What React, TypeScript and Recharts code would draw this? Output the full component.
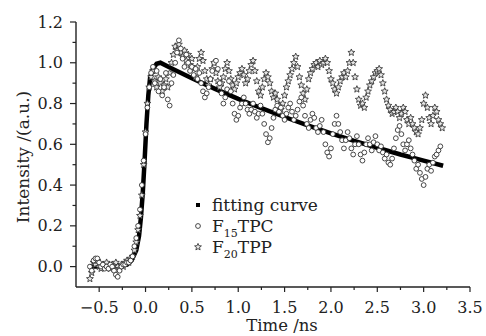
import React from 'react';
import { ComposedChart, Scatter, Line, XAxis, YAxis, Legend } from 'recharts';

const FONT = '"DejaVu Serif", serif';
const INK = '#222';

const xMajorTicks = [-0.5, 0, 0.5, 1, 1.5, 2, 2.5, 3, 3.5];
const xMinorTicks = [-0.25, 0.25, 0.75, 1.25, 1.75, 2.25, 2.75, 3.25];
const yMajorTicks = [0, 0.2, 0.4, 0.6, 0.8, 1.0, 1.2];
const yMinorTicks = [0.1, 0.3, 0.5, 0.7, 0.9, 1.1];

const legendNames = ['fitting curve', 'F15TPC', 'F20TPP'];
const xTitle = 'Time /ns';
const yTitle = 'Intensity /(a.u.)';

// fitting curve (time, intensity)
const fitPoints: [number, number][] = [
  [-0.6, 0.0], [-0.4, 0.0], [-0.3, 0.0], [-0.2, 0.01], [-0.15, 0.03], [-0.1, 0.08], [-0.07, 0.15],
  [-0.05, 0.24], [-0.03, 0.36], [-0.01, 0.52], [0.01, 0.7], [0.03, 0.84], [0.05, 0.93], [0.08, 0.97],
  [0.12, 0.995], [0.16, 1.0], [0.3, 0.968], [0.5, 0.924], [0.75, 0.872], [1.0, 0.823], [1.25, 0.777],
  [1.5, 0.734], [1.75, 0.693], [2.0, 0.654], [2.25, 0.617], [2.5, 0.583], [2.75, 0.55], [3.0, 0.52], [3.21, 0.495],
];

// F15TPC (time, intensity)
const tpcPoints: [number, number][] = [
  [-0.6, 0.0], [-0.58, -0.02], [-0.56, 0.03], [-0.54, 0.04], [-0.52, 0.04], [-0.5, 0.02], [-0.48, 0.0],
  [-0.46, 0.01], [-0.44, -0.01], [-0.42, 0.0], [-0.4, -0.01], [-0.38, 0.01], [-0.36, 0.0], [-0.34, -0.02],
  [-0.32, -0.04], [-0.3, -0.05], [-0.28, -0.02], [-0.26, 0.0], [-0.24, 0.01], [-0.22, 0.01], [-0.2, 0.02],
  [-0.18, 0.02], [-0.16, 0.03], [-0.14, 0.05], [-0.12, 0.1], [-0.1, 0.14], [-0.08, 0.2], [-0.06, 0.28],
  [-0.04, 0.4], [-0.02, 0.52], [0.0, 0.65], [0.02, 0.78], [0.04, 0.88], [0.06, 0.95], [0.08, 0.98],
  [0.1, 0.9], [0.12, 0.96], [0.14, 0.86], [0.16, 0.92], [0.18, 0.84], [0.2, 0.88], [0.22, 0.95],
  [0.24, 0.82], [0.26, 0.79], [0.28, 0.9], [0.3, 0.94], [0.32, 1.0], [0.34, 1.05], [0.36, 1.11],
  [0.38, 1.07], [0.4, 1.02], [0.42, 0.98], [0.44, 1.04], [0.46, 1.0], [0.48, 0.96], [0.5, 0.98],
  [0.52, 0.94], [0.54, 0.97], [0.56, 0.92], [0.58, 0.95], [0.6, 0.9], [0.62, 0.86], [0.64, 0.83],
  [0.66, 0.85], [0.68, 0.88], [0.7, 0.92], [0.72, 0.96], [0.74, 1.0], [0.76, 1.01], [0.78, 0.97],
  [0.8, 0.9], [0.82, 0.85], [0.84, 0.8], [0.86, 0.83], [0.88, 0.87], [0.9, 0.91], [0.92, 0.86],
  [0.94, 0.8], [0.96, 0.75], [0.98, 0.72], [1.0, 0.74], [1.02, 0.78], [1.04, 0.8], [1.06, 0.83],
  [1.08, 0.8], [1.1, 0.77], [1.12, 0.75], [1.14, 0.77], [1.16, 0.8], [1.18, 0.76], [1.2, 0.73],
  [1.22, 0.75], [1.24, 0.79], [1.26, 0.75], [1.28, 0.7], [1.3, 0.65], [1.32, 0.61], [1.34, 0.63],
  [1.36, 0.68], [1.38, 0.73], [1.4, 0.77], [1.42, 0.79], [1.44, 0.76], [1.46, 0.78], [1.48, 0.74],
  [1.5, 0.72], [1.52, 0.75], [1.54, 0.78], [1.56, 0.8], [1.58, 0.76], [1.6, 0.72], [1.62, 0.74],
  [1.64, 0.77], [1.66, 0.81], [1.68, 0.83], [1.7, 0.79], [1.72, 0.74], [1.74, 0.7], [1.76, 0.68],
  [1.78, 0.72], [1.8, 0.75], [1.82, 0.73], [1.84, 0.68], [1.86, 0.66], [1.88, 0.69], [1.9, 0.72],
  [1.92, 0.66], [1.94, 0.6], [1.96, 0.56], [1.98, 0.54], [2.0, 0.58], [2.02, 0.65], [2.04, 0.7],
  [2.06, 0.74], [2.08, 0.7], [2.1, 0.66], [2.12, 0.62], [2.14, 0.58], [2.16, 0.62], [2.18, 0.66],
  [2.2, 0.63], [2.22, 0.58], [2.24, 0.55], [2.26, 0.6], [2.28, 0.64], [2.3, 0.6], [2.32, 0.55],
  [2.34, 0.52], [2.36, 0.56], [2.38, 0.6], [2.4, 0.63], [2.42, 0.6], [2.44, 0.57], [2.46, 0.61],
  [2.48, 0.64], [2.5, 0.6], [2.52, 0.57], [2.54, 0.59], [2.56, 0.56], [2.58, 0.53], [2.6, 0.55],
  [2.62, 0.51], [2.64, 0.5], [2.66, 0.53], [2.68, 0.58], [2.7, 0.63], [2.72, 0.67], [2.74, 0.69],
  [2.76, 0.65], [2.78, 0.6], [2.8, 0.57], [2.82, 0.6], [2.84, 0.62], [2.86, 0.58], [2.88, 0.55],
  [2.9, 0.52], [2.92, 0.48], [2.94, 0.5], [2.96, 0.46], [2.98, 0.43], [3.0, 0.4], [3.02, 0.44],
  [3.04, 0.48], [3.06, 0.5], [3.08, 0.47], [3.1, 0.51], [3.12, 0.54], [3.14, 0.55], [3.16, 0.57], [3.18, 0.59],
];

// F20TPP (time, intensity)
const tppPoints: [number, number][] = [
  [-0.6, -0.06], [-0.58, -0.03], [-0.56, 0.02], [-0.54, 0.01], [-0.52, 0.03], [-0.5, 0.0], [-0.48, -0.01],
  [-0.46, 0.01], [-0.44, 0.0], [-0.42, 0.02], [-0.4, 0.0], [-0.38, -0.01], [-0.36, 0.01], [-0.34, 0.0],
  [-0.32, 0.02], [-0.3, 0.0], [-0.28, -0.01], [-0.26, 0.01], [-0.24, 0.0], [-0.22, 0.02], [-0.2, 0.03],
  [-0.18, 0.02], [-0.16, 0.04], [-0.14, 0.05], [-0.12, 0.08], [-0.1, 0.12], [-0.08, 0.18], [-0.06, 0.25],
  [-0.04, 0.35], [-0.02, 0.5], [0.0, 0.66], [0.02, 0.8], [0.04, 0.88], [0.06, 0.93], [0.08, 0.96],
  [0.1, 0.91], [0.12, 0.88], [0.14, 0.93], [0.16, 0.9], [0.18, 0.86], [0.2, 0.89], [0.22, 0.92],
  [0.24, 0.88], [0.26, 0.95], [0.28, 1.0], [0.3, 1.04], [0.32, 1.08], [0.34, 1.06], [0.36, 1.09],
  [0.38, 1.05], [0.4, 1.03], [0.42, 1.06], [0.44, 1.01], [0.46, 1.04], [0.48, 0.99], [0.5, 1.02],
  [0.52, 0.97], [0.54, 0.93], [0.56, 0.98], [0.58, 1.02], [0.6, 1.05], [0.62, 1.01], [0.64, 0.96],
  [0.66, 0.92], [0.68, 0.89], [0.7, 0.92], [0.72, 0.97], [0.74, 1.0], [0.76, 0.95], [0.78, 0.91],
  [0.8, 0.88], [0.82, 0.9], [0.84, 0.93], [0.86, 0.97], [0.88, 1.0], [0.9, 0.96], [0.92, 0.92],
  [0.94, 0.89], [0.96, 0.87], [0.98, 0.9], [1.0, 0.93], [1.02, 0.95], [1.04, 0.97], [1.06, 0.94],
  [1.08, 0.9], [1.1, 0.92], [1.12, 0.96], [1.14, 0.99], [1.16, 1.01], [1.18, 0.96], [1.2, 0.91],
  [1.22, 0.86], [1.24, 0.84], [1.26, 0.88], [1.28, 0.92], [1.3, 0.95], [1.32, 0.93], [1.34, 0.9],
  [1.36, 0.86], [1.38, 0.83], [1.4, 0.85], [1.42, 0.82], [1.44, 0.79], [1.46, 0.77], [1.48, 0.8],
  [1.5, 0.84], [1.52, 0.88], [1.54, 0.91], [1.56, 0.94], [1.58, 0.97], [1.6, 1.0], [1.62, 1.03],
  [1.64, 0.98], [1.66, 0.93], [1.68, 0.89], [1.7, 0.85], [1.72, 0.82], [1.74, 0.87], [1.76, 0.92],
  [1.78, 0.95], [1.8, 0.97], [1.82, 0.99], [1.84, 1.0], [1.86, 0.98], [1.88, 1.01], [1.9, 0.99],
  [1.92, 1.0], [1.94, 1.02], [1.96, 1.0], [1.98, 0.96], [2.0, 0.92], [2.02, 0.9], [2.04, 0.87],
  [2.06, 0.85], [2.08, 0.88], [2.1, 0.91], [2.12, 0.93], [2.14, 0.95], [2.16, 0.93], [2.18, 0.96],
  [2.2, 1.0], [2.22, 1.05], [2.24, 1.0], [2.26, 0.93], [2.28, 0.87], [2.3, 0.82], [2.32, 0.79],
  [2.34, 0.8], [2.36, 0.78], [2.38, 0.83], [2.4, 0.86], [2.42, 0.89], [2.44, 0.91], [2.46, 0.93],
  [2.48, 0.95], [2.5, 0.96], [2.52, 0.97], [2.54, 0.94], [2.56, 0.9], [2.58, 0.86], [2.6, 0.82],
  [2.62, 0.79], [2.64, 0.77], [2.66, 0.75], [2.68, 0.76], [2.7, 0.78], [2.72, 0.76], [2.74, 0.73],
  [2.76, 0.75], [2.78, 0.78], [2.8, 0.76], [2.82, 0.72], [2.84, 0.7], [2.86, 0.73], [2.88, 0.7],
  [2.9, 0.68], [2.92, 0.66], [2.94, 0.65], [2.96, 0.68], [2.98, 0.72], [3.0, 0.8], [3.02, 0.84],
  [3.04, 0.78], [3.06, 0.73], [3.08, 0.7], [3.1, 0.74], [3.12, 0.78], [3.14, 0.76], [3.16, 0.72],
  [3.18, 0.7], [3.2, 0.68],
];

const toRows = (pts: [number, number][]) => pts.map(([t, v]) => ({ t, v }));
const fitData = toRows(fitPoints);
const tpcData = toRows(tpcPoints);
const tppData = toRows(tppPoints);

const isIn = (arr: number[], v: number) => arr.some((m) => Math.abs(m - v) < 1e-6);
const fmt = (v: number) => (v < 0 ? '\u2212' + Math.abs(v).toFixed(1) : v.toFixed(1));

const XTick = (props: any) => {
  const { x, y, payload } = props;
  const major = isIn(xMajorTicks, payload.value);
  return (
    <g>
      <line x1={x} x2={x} y1={y} y2={y + (major ? 5 : 3)} stroke={INK} strokeWidth={1.2} />
      {major && (
        <text x={x} y={y + 20} textAnchor="middle" dominantBaseline="central" fontFamily={FONT} fontSize={16} fill={INK}>
          {fmt(payload.value)}
        </text>
      )}
    </g>
  );
};

const YTick = (props: any) => {
  const { x, y, payload } = props;
  const major = isIn(yMajorTicks, payload.value);
  return (
    <g>
      <line x1={x - (major ? 6 : 3.5)} x2={x} y1={y} y2={y} stroke={INK} strokeWidth={1.2} />
      {major && (
        <text x={x - 13} y={y} textAnchor="end" dominantBaseline="central" fontFamily={FONT} fontSize={16} fill={INK}>
          {fmt(payload.value)}
        </text>
      )}
    </g>
  );
};

const starPath = (cx: number, cy: number, ro: number, ri: number) => {
  const pts: string[] = [];
  for (let i = 0; i < 10; i++) {
    const r = i % 2 === 0 ? ro : ri;
    const a = -Math.PI / 2 + (i * Math.PI) / 5;
    pts.push(`${(cx + r * Math.cos(a)).toFixed(2)},${(cy + r * Math.sin(a)).toFixed(2)}`);
  }
  return pts.join(' ');
};

const CircleShape = (p: any) => (
  <circle cx={p.cx} cy={p.cy} r={2.4} fill="#fff" stroke="#333" strokeWidth={0.9} />
);
const StarShape = (p: any) => (
  <polygon points={starPath(p.cx, p.cy, 3.6, 1.6)} fill="#e6e6e6" stroke="#333" strokeWidth={0.85} />
);

const LegendBox = () => (
  <svg width={150} height={66} style={{ display: 'block' }}>
    <rect x={4} y={10} width={4} height={4} fill="#000" />
    <text x={20} y={12} dominantBaseline="central" fontFamily={FONT} fontSize={17} fill={INK}>
      {legendNames[0]}
    </text>
    <circle cx={6} cy={33} r={2.4} fill="#fff" stroke="#333" strokeWidth={0.9} />
    <text x={20} y={33} dominantBaseline="central" fontFamily={FONT} fontSize={17} fill={INK}>
      <tspan>F</tspan>
      <tspan fontSize={11} dy={7}>15</tspan>
      <tspan dy={-7}>TPC</tspan>
    </text>
    <polygon points={starPath(6, 54, 3.6, 1.6)} fill="#e6e6e6" stroke="#333" strokeWidth={0.85} />
    <text x={20} y={54} dominantBaseline="central" fontFamily={FONT} fontSize={17} fill={INK}>
      <tspan>F</tspan>
      <tspan fontSize={11} dy={7}>20</tspan>
      <tspan dy={-7}>TPP</tspan>
    </text>
  </svg>
);

export default function App() {
  return (
    <div style={{ position: 'absolute', left: 0, top: 0, width: 486, height: 336, background: '#fff' }}>
      <ComposedChart width={486} height={336} margin={{ top: 22, right: 16, bottom: 0, left: 0 }}>
        <XAxis
          dataKey="t"
          type="number"
          domain={[-0.75, 3.5]}
          ticks={[...xMajorTicks, ...xMinorTicks].sort((a, b) => a - b)}
          interval={0}
          height={49}
          tickSize={0}
          tickMargin={0}
          tickLine={false}
          tick={<XTick />}
          axisLine={{ stroke: INK, strokeWidth: 1.4 }}
          allowDataOverflow
          label={{
            value: xTitle,
            content: (p: any) => {
              const vb = p.viewBox;
              return (
                <text x={vb.x + vb.width / 2 + 9} y={325} textAnchor="middle" dominantBaseline="central" fontFamily={FONT} fontSize={16.5} fill={INK}>
                  {xTitle}
                </text>
              );
            },
          }}
        />
        <YAxis
          dataKey="v"
          type="number"
          domain={[-0.1, 1.2]}
          ticks={[...yMajorTicks, ...yMinorTicks].sort((a, b) => a - b)}
          interval={0}
          width={76}
          tickSize={0}
          tickMargin={0}
          tickLine={false}
          tick={<YTick />}
          axisLine={{ stroke: INK, strokeWidth: 1.4 }}
          allowDataOverflow
          label={{
            value: yTitle,
            content: () => (
              <text x={23} y={157} transform="rotate(-90 23 157)" textAnchor="middle" dominantBaseline="central" fontFamily={FONT} fontSize={17} fill={INK}>
                {yTitle}
              </text>
            ),
          }}
        />
        <Legend
          layout="vertical"
          align="center"
          verticalAlign="middle"
          wrapperStyle={{ left: 192, top: 193, width: 150, height: 66 }}
          content={() => <LegendBox />}
        />
        <Scatter name={legendNames[2]} data={tppData} shape={<StarShape />} isAnimationActive={false} />
        <Scatter name={legendNames[1]} data={tpcData} shape={<CircleShape />} isAnimationActive={false} />
        <Line
          name={legendNames[0]}
          data={fitData}
          dataKey="v"
          type="linear"
          stroke="#000"
          strokeWidth={4.5}
          dot={false}
          activeDot={false}
          isAnimationActive={false}
        />
      </ComposedChart>
    </div>
  );
}
